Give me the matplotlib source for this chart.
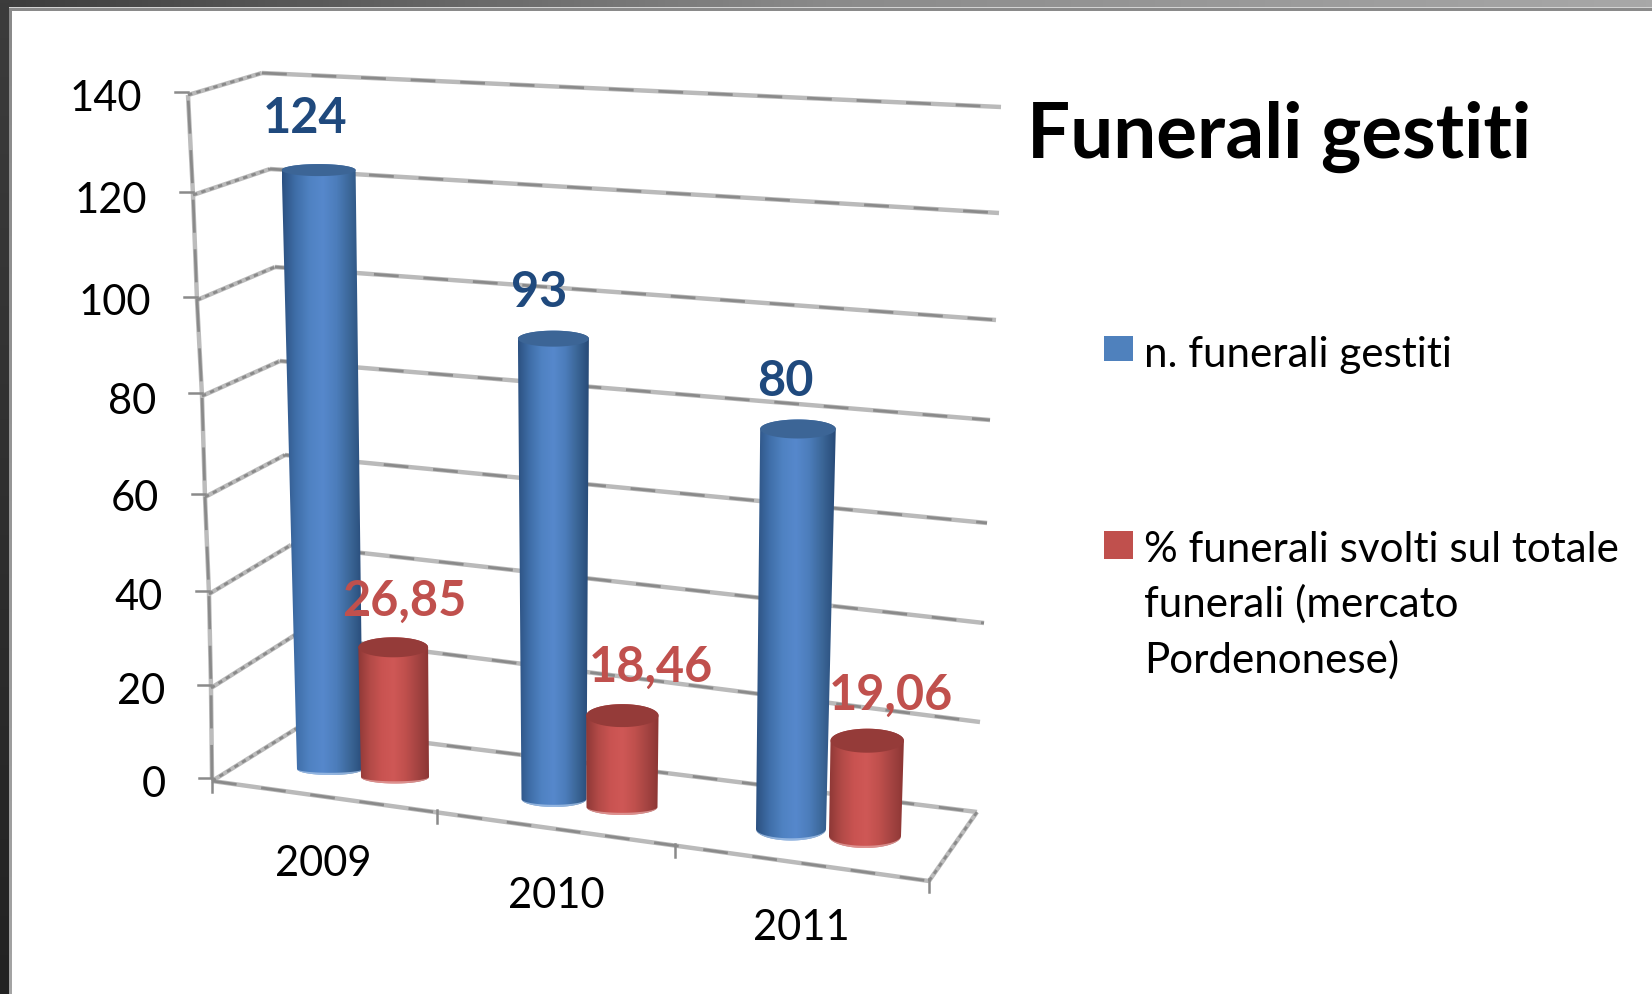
import numpy as np
import matplotlib
matplotlib.use("Agg")
import matplotlib.pyplot as plt
from matplotlib.colors import LinearSegmentedColormap
from matplotlib.patches import Polygon, Rectangle

# ---- data ----
categories = ["2009", "2010", "2011"]
funerali = [124, 93, 80]
percentuale = [26.85, 18.46, 19.06]
percent_labels = ["26,85", "18,46", "19,06"]
y_ticks = [0, 20, 40, 60, 80, 100, 120, 140]
title = "Funerali gestiti"
legend_labels = ["n. funerali gestiti", "% funerali svolti sul totale\nfunerali (mercato\nPordenonese)"]

# ---- layout of the projected 3D box (pixels of the picture) ----
W, H = 1652, 995
front_x = [212, 211, 209, 205, 202, 197, 193, 188]
front_y = [779, 686, 592, 495, 394, 298, 193, 93]
back_x = [299, 295, 291, 285, 280, 275, 270, 262]
back_y = [728, 636, 546, 456, 362, 268, 170, 74]
right_x = [977, 980, 984, 987, 990, 996, 999, 1001]
right_y = [813, 723, 624, 524, 421, 321, 214, 108]
label_dy = [6, 6, 6, 4, 8, 5, 8, 6]
floor_front_right = (929, 882)
floor_tick_t = [0, 0.314, 0.646, 1]
px_per_unit = [4.83, 4.95, 5.0]
blue_base = [(330, 770, 33), (554, 800, 32.5), (791, 830, 35)]
red_base = [(395, 778, 34), (622, 808, 35.5), (865, 837, 36)]
blue_foot = [6, 8, 11.5]
red_foot = [6.5, 8, 12]
vanish_x, k_shift, k_width = 570, 7.9e-5, 2.0e-4

FONT = "Lato"
plt.rcParams["font.family"] = [FONT, "DejaVu Sans"]

fig = plt.figure(figsize=(W / 100, H / 100), dpi=100, facecolor="white")
ax = fig.add_axes([0, 0, 1, 1])
ax.set_axis_off()


def gridline(xs, ys, dark="#8a8a8a", light="#bababa", lw=3.2, z=2, dash=(9, 9)):
    ax.plot(xs, ys, color=light, lw=lw, solid_capstyle="butt", zorder=z)
    ax.plot(xs, ys, color=dark, lw=lw * 0.62, ls=(0, dash), dash_capstyle="butt", zorder=z + 0.1)


# ---- window frame ----
top_cm = LinearSegmentedColormap.from_list("t", ["#3c3c3c", "#8a8a8a", "#a8a8a8"])
ax.imshow(np.linspace(0, 1, 256)[None, :], cmap=top_cm, extent=[0, W, 8, 0], aspect="auto", zorder=10)
ax.add_patch(Rectangle((9, 8), W - 9, 1, color="#d2d2d2", lw=0, zorder=10))
ax.add_patch(Rectangle((9, 9), W - 9, 3, color="#8a8a8a", lw=0, zorder=10))
left_cm = LinearSegmentedColormap.from_list("l", ["#3c3c3c", "#222222"])
ax.imshow(np.linspace(0, 1, 256)[:, None], cmap=left_cm, extent=[0, 9, H, 0], aspect="auto", zorder=10)
ax.imshow(np.linspace(0, 1, 256)[:, None], cmap=LinearSegmentedColormap.from_list("l2", ["#8a8a8a", "#a4a4a4"]),
          extent=[9, 12, H, 9], aspect="auto", zorder=10)

# ---- walls and floor ----
for i in range(len(y_ticks)):
    gridline([front_x[i], back_x[i]], [front_y[i] + 3, back_y[i]], dash=(1.6, 1.6))
    gridline([back_x[i], right_x[i]], [back_y[i], right_y[i]])
    ax.plot([front_x[i] - 13, front_x[i]], [front_y[i], front_y[i]], color="#8a8a8a", lw=1.8, zorder=3)
    ax.text(front_x[i] - 46, front_y[i] + label_dy[i], str(y_ticks[i]), ha="right",
            va="center", fontsize=30, color="black", zorder=20)

gridline(front_x, [y + 3 if j else y for j, y in enumerate(front_y)], dark="#8a8a8a", light="#bcbcbc", dash=(12, 6))
gridline([front_x[0], floor_front_right[0]], [front_y[0] + 3, floor_front_right[1]])
gridline([floor_front_right[0], right_x[0]], [floor_front_right[1], right_y[0]], dash=(1.6, 1.6))

# ticks on the floor edge
n = len(categories)
for t in floor_tick_t:
    x = front_x[0] + t * (floor_front_right[0] - front_x[0])
    y = front_y[0] + 3 + t * (floor_front_right[1] - front_y[0] - 3)
    ax.plot([x, x], [y - 2, y + 11], color="#8a8a8a", lw=1.8, zorder=3)


# ---- cylinders ----
def semi(y):
    return np.interp(y, [170, 340, 430, 650, 740, 840], [6, 8, 9.5, 10, 12, 12])


def cylinder(base, value, ppu, foot, cmap, top_color, rim_color, z):
    bx, by, bw = base
    h = value * ppu
    ty = by - h
    tx = bx + (bx - vanish_x) * k_shift * h
    tw = bw * (1 + k_width * h)
    a = np.linspace(np.pi, 0, 40)
    st = semi(ty)
    bot = np.c_[bx + bw * np.cos(a), by + foot * np.sin(a)]
    top = np.c_[tx + tw * np.cos(a[::-1]), ty - st * np.sin(a[::-1])]
    outline = np.vstack([bot, top, bot[:1]])
    xmin, xmax = min(bx - bw, tx - tw), max(bx + bw, tx + tw)
    im = ax.imshow(np.linspace(0, 1, 256)[None, :], cmap=cmap, aspect="auto",
                   extent=[xmin, xmax, by + foot + 1, ty - st - 1], zorder=z)
    clip = Polygon(outline, closed=True, transform=ax.transData, facecolor="none", lw=0)
    ax.add_patch(clip)
    im.set_clip_path(clip)
    rim_in = np.c_[bx + bw * np.cos(a), by + (foot - 2.2) * np.sin(a)]
    ax.add_patch(Polygon(np.vstack([bot, rim_in[::-1]]), closed=True, fc=rim_color, lw=0, alpha=0.75, zorder=z + 0.1))
    t = np.linspace(0, 2 * np.pi, 80)
    ax.add_patch(Polygon(np.c_[tx + tw * np.cos(t), ty + st * np.sin(t)], closed=True,
                         fc=top_color, lw=0, zorder=z + 0.2))


blue_cm = LinearSegmentedColormap.from_list("b", ["#2c5181", "#3f6ea8", "#4f82c2", "#5688cc", "#4c7dbb", "#3b6697", "#274a77"])
red_cm = LinearSegmentedColormap.from_list("r", ["#8e3836", "#b24a47", "#c95351", "#cf5856", "#c0504d", "#a54442", "#8c3634"])

for i in range(n):
    cylinder(blue_base[i], funerali[i], px_per_unit[i], blue_foot[i], blue_cm, "#3c6596", "#a9c6ea", 5 + i * 0.01)
for i in range(n):
    cylinder(red_base[i], percentuale[i], px_per_unit[i], red_foot[i], red_cm, "#953b39", "#e4a5a3", 6 + i * 0.01)

# ---- value labels ----
blue_dx = [-25, -15, -6]
blue_dy = [-53, -47, -48]
red_dx = [9, 29, 26]
red_dy = [-47, -49, -46]
for i in range(n):
    bx, by, _ = blue_base[i]
    ax.text(bx + blue_dx[i], by - funerali[i] * px_per_unit[i] + blue_dy[i], str(funerali[i]),
            ha="center", va="center", fontsize=35, fontweight="bold", color="#1F497D", zorder=20)
    rx, ry, _ = red_base[i]
    ax.text(rx + red_dx[i], ry - percentuale[i] * px_per_unit[i] + red_dy[i], percent_labels[i],
            ha="center", va="center", fontsize=35, fontweight="bold", color="#C0504D", zorder=20)

# ---- category labels ----
cat_x = [323, 556, 801]
cat_y = [864, 896, 928]
for c, x, y in zip(categories, cat_x, cat_y):
    ax.text(x, y, c, ha="center", va="center", fontsize=30, color="black", zorder=20)

# ---- title and legend ----
ax.text(1027, 158, title, ha="left", va="baseline", fontsize=55, fontweight="bold", color="black", zorder=20)
ax.add_patch(Rectangle((1104, 337), 29, 25, fc="#4F81BD", lw=0, zorder=20))
ax.add_patch(Rectangle((1104, 532), 29, 28, fc="#C0504D", lw=0, zorder=20))
ax.text(1144, 355, legend_labels[0], ha="left", va="center", fontsize=30.3, color="black", zorder=20)
for line, y in zip(legend_labels[1].split("\n"), [550, 604, 660]):
    ax.text(1144, y, line, ha="left", va="center", fontsize=30.3, color="black", zorder=20)

ax.set_xlim(0, W)
ax.set_ylim(H, 0)
fig.savefig("out.png", dpi=100, facecolor="white")
